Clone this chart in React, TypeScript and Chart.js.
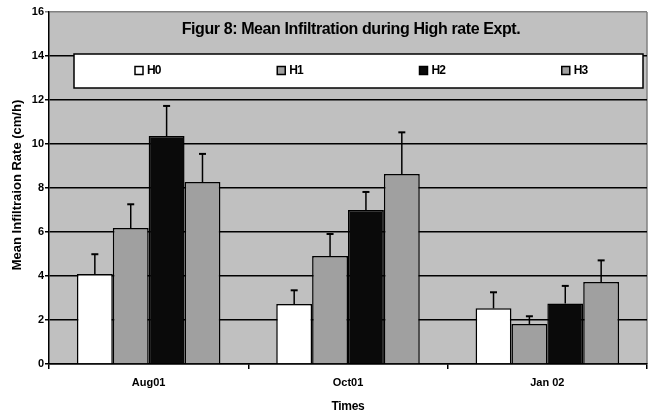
import React, { useEffect, useRef } from "react";
import { Chart, registerables } from "chart.js";

Chart.register(...registerables);

const categories = ["Aug01", "Oct01", "Jan 02"];
const seriesNames = ["H0", "H1", "H2", "H3"];
const h0Values = [4.09, 2.73, 2.53];
const h1Values = [6.18, 4.91, 1.82];
const h2Values = [10.36, 7.0, 2.75];
const h3Values = [8.27, 8.64, 3.73];
const h0Errors = [0.9, 0.62, 0.73];
const h1Errors = [1.08, 1.0, 0.35];
const h2Errors = [1.37, 0.82, 0.8];
const h3Errors = [1.28, 1.89, 0.98];
const seriesColors = ["#FFFFFF", "#A0A0A0", "#0A0A0A", "#A0A0A0"];
const chartTitle = "Figur 8: Mean Infiltration during High rate Expt.";
const yTitle = "Mean Infiltraion Rate (cm/h)";
const xTitle = "Times";

const FONT = "'Liberation Sans', Arial, sans-serif";

export default function App() {
  const ref = useRef<HTMLCanvasElement | null>(null);

  useEffect(() => {
    document.body.style.margin = "0";
    const canvas = ref.current;
    if (!canvas) return;
    const values = [h0Values, h1Values, h2Values, h3Values];
    const errors = [h0Errors, h1Errors, h2Errors, h3Errors];

    const decor = {
      id: "decor",
      beforeDraw(chart: any) {
        const { ctx, chartArea: a } = chart;
        ctx.save();
        ctx.fillStyle = "#FFFFFF";
        ctx.fillRect(0, 0, chart.width, chart.height);
        ctx.fillStyle = "#C0C0C0";
        ctx.fillRect(a.left, a.top, a.right - a.left, a.bottom - a.top);
        ctx.strokeStyle = "#808080";
        ctx.lineWidth = 1.5;
        ctx.beginPath();
        ctx.moveTo(a.right, a.top);
        ctx.lineTo(a.right, a.bottom);
        ctx.stroke();
        ctx.restore();
      },
      afterDatasetsDraw(chart: any) {
        const { ctx } = chart;
        const yScale = chart.scales.y;
        ctx.save();
        ctx.strokeStyle = "#000";
        chart.data.datasets.forEach((ds: any, di: number) => {
          const meta = chart.getDatasetMeta(di);
          meta.data.forEach((bar: any, i: number) => {
            const top = yScale.getPixelForValue(values[di][i] + errors[di][i]);
            ctx.lineWidth = 1.5;
            ctx.beginPath();
            ctx.moveTo(bar.x, bar.y);
            ctx.lineTo(bar.x, top);
            ctx.stroke();
            ctx.lineWidth = 2;
            ctx.beginPath();
            ctx.moveTo(bar.x - 3.5, top);
            ctx.lineTo(bar.x + 3.5, top);
            ctx.stroke();
          });
        });
        ctx.restore();
      },
      afterDraw(chart: any) {
        const { ctx, chartArea: a } = chart;
        ctx.save();
        // title
        ctx.fillStyle = "#000";
        ctx.font = `bold 16px ${FONT}`;
        (ctx as any).letterSpacing = "-0.4px";
        ctx.textAlign = "center";
        ctx.textBaseline = "middle";
        ctx.fillText(chartTitle, 351, 30);
        // legend box
        const lx = 74, ly = 54, lw = 569, lh = 34;
        ctx.fillStyle = "#FFFFFF";
        ctx.fillRect(lx, ly, lw, lh);
        ctx.strokeStyle = "#000";
        ctx.lineWidth = 1.5;
        ctx.strokeRect(lx, ly, lw, lh);
        ctx.font = `bold 12px ${FONT}`;
        (ctx as any).letterSpacing = "-0.8px";
        ctx.textAlign = "left";
        const col = lw / seriesNames.length;
        seriesNames.forEach((name, i) => {
          const ix = lx + col * i + 61;
          const iy = ly + lh / 2;
          ctx.fillStyle = seriesColors[i];
          ctx.fillRect(ix, iy - 4.5, 8, 8);
          ctx.lineWidth = 1.5;
          ctx.strokeStyle = "#000";
          ctx.strokeRect(ix, iy - 4.5, 8, 8);
          ctx.fillStyle = "#000";
          ctx.fillText(name, ix + 12, iy);
        });
        // axis titles
        (ctx as any).letterSpacing = "-0.3px";
        ctx.font = `bold 12px ${FONT}`;
        ctx.textAlign = "center";
        ctx.fillText(xTitle, (a.left + a.right) / 2, 407);
        ctx.translate(17, (a.top + a.bottom) / 2 - 3);
        ctx.rotate(-Math.PI / 2);
        ctx.font = `bold 13px ${FONT}`;
        (ctx as any).letterSpacing = "0px";
        ctx.fillText(yTitle, 0, 0);
        ctx.restore();
      },
    };

    const chart = new Chart(canvas, {
      type: "bar",
      data: {
        labels: categories,
        datasets: seriesNames.map((name, i) => ({
          label: name,
          data: values[i],
          backgroundColor: seriesColors[i],
          borderColor: "#000",
          borderWidth: 1.5,
          categoryPercentage: 0.72,
          barPercentage: 1,
        })),
      },
      options: {
        responsive: false,
        animation: false,
        events: [],
        layout: { padding: { left: 0, top: 12, right: 3, bottom: 0 } },
        plugins: {
          legend: { display: false },
          title: { display: false },
          tooltip: { enabled: false },
        },
        scales: {
          x: {
            afterFit: (s: any) => { s.height = 56; },
            grid: {
              offset: true,
              drawOnChartArea: false,
              drawTicks: true,
              tickLength: 5,
              color: "#000",
              lineWidth: 1.5,
            },
            border: { color: "#000", width: 1.5 },
            ticks: {
              color: "#000",
              padding: 7,
              font: { family: FONT, size: 11, weight: "bold" },
            },
          },
          y: {
            min: 0,
            max: 16,
            afterFit: (s: any) => { s.width = 49; },
            grid: {
              color: (c: any) => (c.tick && c.tick.value === 16 ? "#808080" : "#000"),
              lineWidth: 1.5,
              tickLength: 4,
            },
            border: { color: "#000", width: 1.5 },
            ticks: {
              stepSize: 2,
              color: "#000",
              padding: 1,
              font: { family: FONT, size: 11, weight: "bold" },
            },
          },
        },
      },
      plugins: [decor],
    });
    return () => chart.destroy();
  }, []);

  return (
    <div style={{ position: "fixed", left: 0, top: 0, width: 650, height: 420 }}>
      <canvas ref={ref} width={650} height={420} />
    </div>
  );
}
